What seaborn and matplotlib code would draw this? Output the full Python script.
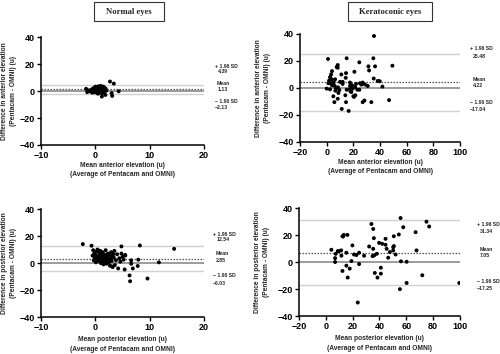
import matplotlib
matplotlib.use("Agg")
import matplotlib.pyplot as plt
from matplotlib.patches import Rectangle
import seaborn as sns
import pandas as pd

# ---------------- data ----------------
# Normal eyes, anterior elevation
xA = [-1.7, -1.5, -1.2, -0.9, -0.7, -0.5, -0.4, -0.3, -0.2, -0.1, 0.0, 0.1, 0.2, 0.2, 0.3, 0.3,
      0.4, 0.4, 0.5, 0.5, 0.6, 0.6, 0.7, 0.7, 0.8, 0.8, 0.9, 0.9, 1.0, 1.0, 1.1, 1.1, 1.2, 1.2,
      1.3, 1.3, 1.4, 1.5, 1.5, 1.6, 1.7, 1.8, 1.9, 2.0, 1.2, 1.85, 2.7, 3.4, 3.0, 3.1, 4.3,
      0.0, -0.6, 0.5, 1.0]
yA = [1.6, -0.8, 0.5, -0.3, 1.0, 0.2, 2.0, -1.0, 0.8, 1.5, -0.2, 2.5, 0.4, 1.2, -1.5, 3.0,
      0.9, 1.8, -0.5, 2.2, 1.0, 3.5, 0.3, 1.6, -1.2, 2.8, 0.6, 2.0, 1.1, 3.8, -0.4, 1.5, 0.8, 2.6,
      -1.8, 1.9, 0.5, 3.2, 1.2, -0.6, 2.3, 0.9, 1.7, 0.2, -4.1, -2.9, 7.0, 5.5, -1.6, -3.6, -0.2,
      3.2, -1.2, -2.0, 0.0]

# Keratoconic eyes, anterior elevation
xB = [35.5, 1.0, 15.0, 24.5, 35.0, 8.3, 8.3, 31.3, 31.8, 36.3, 49.3, 11.0, 14.5, 20.8, 4.0, 3.3,
      7.5, 14.3, 2.5, 3.8, 6.3, 1.8, 5.3, 1.3, 35.3, 38.3, 39.8, 10.0, 12.0, 17.5, 25.0, 27.0,
      28.8, 30.8, 0.0, 6.0, 8.5, 17.5, 19.5, 21.3, 41.8, 6.5, 9.5, 15.0, 17.5, 17.8, 23.0, 24.5,
      5.0, 8.8, 14.0, 20.0, 20.5, 21.5, 8.3, 5.8, 14.5, 27.0, 28.3, 33.5, 11.3, 16.5, 46.8,
      2.5, 4.0, 12.0, 19.0, 22.0, 7.0, 3.0, 18.5, 26.0]
yB = [38.5, 21.5, 22.0, 19.0, 22.0, 17.0, 15.0, 16.0, 13.0, 16.0, 16.5, 10.0, 11.0, 12.0, 12.5, 10.0,
      15.5, 7.5, 8.0, 6.4, 6.4, 5.4, 4.2, 3.5, 7.0, 5.2, 5.0, 4.5, 4.5, 4.0, 3.5, 4.0,
      2.5, 1.5, -0.5, 1.5, 0.5, 1.5, -0.5, 0.7, 1.0, -2.0, -1.5, -1.3, -0.8, -2.4, -1.3, -1.3,
      -6.2, -3.7, -5.4, -6.1, -6.6, -5.4, -8.0, -10.5, -10.5, -10.5, -9.3, -10.5, -15.5, -17.0, -9.0,
      -1.0, 2.0, 3.0, 2.0, 3.0, -0.5, 3.5, -3.0, 2.5]

# Normal eyes, posterior elevation
xC = [-0.5, -0.4, -0.3, -0.2, -0.1, 0.0, 0.1, 0.2, 0.3, 0.4, 0.5, 0.6, 0.7, 0.8, 0.9, 1.0, 1.1,
      1.2, 1.3, 1.4, 1.5, 1.6, 1.7, 1.8, 1.9, 2.0, 2.1, 2.2, 2.3, 2.4, 2.5, 2.6, 2.7, 2.8, 2.9,
      3.0, 3.1, 3.2, 3.4, 3.5, 3.6, 3.8, 4.0, 4.2, 4.4, 4.6, 4.8, 5.0, 5.2, 5.5, 0.3, 0.8, 1.3,
      1.8, 2.2, 2.6, 3.0, 3.3, 1.0, 1.6, 2.4, 0.5,
      -2.3, -0.7, 4.8, 8.2, 14.5, 11.7, 9.6, 7.9, 7.8, 6.9, 5.4, 6.3, 6.4, 6.6, 6.6, 5.5]
yC = [5.5, 9.5, 2.0, 7.0, 4.0, 6.0, 0.5, 8.5, 3.0, 10.0, 5.0, 1.5, 7.5, 3.5, 9.0, 0.0, 6.0,
      2.5, 8.0, 4.5, -1.0, 6.5, 1.0, 3.5, 9.5, 5.0, -0.5, 2.5, 7.0, 4.0, 0.5, 6.0, -2.0, 3.0, 8.0,
      1.5, 5.0, -3.0, 4.0, 9.0, -1.5, 2.0, 6.5, -4.0, 3.5, 1.0, 7.0, 4.5, 2.5, 6.0, 4.0, 6.0, 0.8,
      5.5, 1.2, 3.0, -2.5, 6.5, 2.0, 3.5, 1.5, 2.5,
      14.0, 12.8, 12.3, 13.0, 10.5, 0.5, -11.5, 2.5, -2.2, -4.0, -4.8, -9.2, -13.5, 2.0, -0.5, 5.5]

# Keratoconic eyes, posterior elevation
xD = [4.1, 6.9, 6.9, 7.4, 8.9, 9.9, 11.4, 11.6, 12.4, 13.4, 12.9, 12.4, 15.3, 16.1, 15.3, 16.3,
      17.8, 19.1, 19.8, 21.0, 22.8, 24.8, 24.8, 23.8, 28.5, 32.3, 34.0, 35.3, 35.8, 34.8, 36.0,
      35.3, 36.5, 38.0, 38.5, 39.7, 41.0, 41.0, 42.0, 44.5, 44.5, 45.3, 46.5, 47.7, 50.2, 50.2,
      50.7, 50.7, 52.0, 54.4, 55.2, 55.7, 56.0, 57.7, 60.2, 60.2, 66.9, 67.6, 75.0, 77.0, 71.9, 99.5]
yD = [9.1, 2.9, 0.0, 6.1, 8.1, 8.1, 8.6, 4.7, 19.1, 20.1, 18.9, -6.6, -2.7, 20.1, 6.9, -11.5,
      -4.9, 0.7, 12.3, 5.6, 5.2, 6.9, -1.5, -30.0, 4.7, 11.5, 28.2, 24.5, 17.7, 4.4, 4.9,
      9.8, -8.1, 6.1, -11.5, 14.2, -4.2, -8.6, 13.5, 17.2, 12.8, 9.8, 3.2, 7.4, 8.6, 11.0,
      11.8, 19.1, 5.6, 20.4, -20.1, 32.6, 0.5, 25.8, 0.2, -15.5, 22.1, 8.6, 29.9, 26.3, -9.8, -15.5]

# limits of agreement: upper, mean, lower
statsA = [4.39, 1.13, -2.13]
statsB = [25.48, 4.22, -17.04]
statsC = [12.54, 2.85, -6.03]
statsD = [31.34, 7.05, -17.25]

xlabelA = ["Mean anterior elevation (u)", "(Average of Pentacam and OMNI)"]
xlabelP = ["Mean posterior elevation (u)", "(Average of Pentacam and OMNI)"]
ylabelA = ["Difference in anterior elevation", "(Pentacam - OMNI) (u)"]
ylabelP = ["Difference in posterior elevation", "(Pentacam - OMNI) (u)"]
titles = ["Normal eyes", "Keratoconic eyes"]
xticks_normal = [-10, 0, 10, 20]
xticks_kc = [-20, 0, 20, 40, 60, 80, 100]
yticks = [-40, -20, 0, 20, 40]

# ---------------- figure ----------------
sns.set_theme(style="ticks")
plt.rcParams["font.family"] = ["Liberation Sans", "DejaVu Sans"]
plt.rcParams["font.weight"] = "bold"

fig = plt.figure(figsize=(5.0, 3.54), dpi=100)

panels = [
    (xA, yA, statsA, [0.082, 0.5904, 0.326, 0.305], xticks_normal, xlabelA, ylabelA,
     1.065, [0.73, 0.685, 0.565, 0.51, 0.40, 0.35], -0.155, -0.15),
    (xB, yB, statsB, [0.600, 0.5990, 0.320, 0.305], xticks_kc, xlabelA, ylabelA,
     1.0625, [0.861, 0.787, 0.583, 0.519, 0.361, 0.296], -0.155, -0.18),
    (xC, yC, statsC, [0.082, 0.1045, 0.326, 0.305], xticks_normal, xlabelP, ylabelP,
     1.055, [0.766, 0.72, 0.587, 0.519, 0.38, 0.308], -0.18, -0.15),
    (xD, yD, statsD, [0.598, 0.1073, 0.322, 0.305], xticks_kc, xlabelP, ylabelP,
     1.105, [0.845, 0.787, 0.614, 0.556, 0.321, 0.253], -0.18, -0.18),
]

for xs, ys, st, rect, xt, xl, yl, tx, tys, xly, ylx in panels:
    ax = fig.add_axes(rect)
    df = pd.DataFrame({"x": xs, "y": ys})
    ax.axhline(st[0], color="#d0d0d0", lw=1.0, zorder=1)
    ax.axhline(st[2], color="#d0d0d0", lw=1.0, zorder=1)
    ax.axhline(0, color="#8a8a8a", lw=1.2, zorder=1)
    ax.axhline(st[1], color="#505050", lw=0.9, ls=(0, (1.2, 1.2)), zorder=1)
    sns.scatterplot(data=df, x="x", y="y", ax=ax, color="black", s=8,
                    edgecolor="none", linewidth=0, zorder=3, legend=False)
    ax.set_xlim(xt[0], xt[-1])
    ax.set_ylim(-40, 40)
    ax.set_xticks(xt)
    ax.set_yticks(yticks)
    ax.set_xticklabels([f"{v:d}".replace("-", "\u2212") for v in xt], fontsize=6.5, fontweight="bold")
    ax.set_yticklabels([f"{v:d}".replace("-", "\u2212") for v in yticks], fontsize=6.5, fontweight="bold")
    ax.tick_params(axis="both", direction="out", length=3, width=1.0, pad=1.5, colors="black")
    for s in ["top", "right"]:
        ax.spines[s].set_visible(False)
    for s in ["left", "bottom"]:
        ax.spines[s].set_linewidth(1.1)
        ax.spines[s].set_color("black")
    ax.set_xlabel(xl[0] + "\n" + xl[1], fontsize=4.8, fontweight="bold", linespacing=1.5)
    ax.xaxis.set_label_coords(0.5, xly)
    ax.set_ylabel(yl[0] + "\n" + yl[1], fontsize=4.8, fontweight="bold", linespacing=1.4)
    ax.yaxis.set_label_coords(ylx, 0.5)
    labels = ["+ 1.96 SD", f"{st[0]:.2f}", "Mean", f"{st[1]:.2f}", "\u2212 1.96 SD",
              f"{st[2]:.2f}".replace("-", "\u2212")]
    offs = [0, 0.02, 0.015, 0.02, 0, 0.0]
    for lab, ty, o in zip(labels, tys, offs):
        ax.text(tx + o, ty, lab, transform=ax.transAxes, fontsize=3.7, fontweight="bold",
                ha="left", va="center", clip_on=False)

# title boxes
for cx, w, t in [(0.257, 0.14, titles[0]), (0.780, 0.168, titles[1])]:
    fig.add_artist(Rectangle((cx - w / 2, 0.941), w, 0.053, transform=fig.transFigure,
                             fill=False, edgecolor="#333333", lw=0.8))
    fig.text(cx, 0.9675, t, ha="center", va="center", fontsize=6.2, fontweight="bold",
             family=["Liberation Serif", "DejaVu Serif"])

fig.savefig("out.png", dpi=100)
